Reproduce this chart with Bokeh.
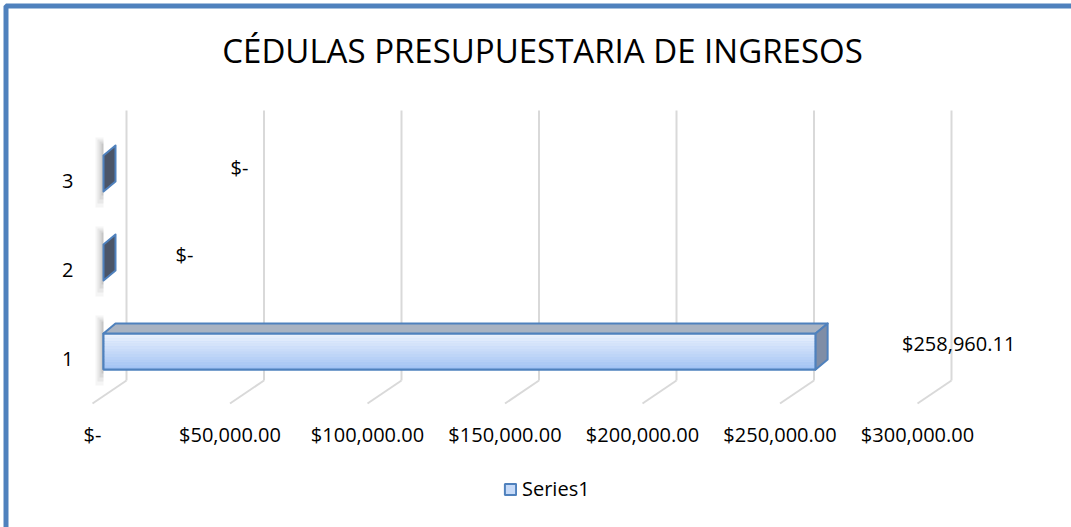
from bokeh.plotting import figure
from bokeh.models import Range1d, BoxAnnotation, Legend, LegendItem
from bokeh.core.properties import value
from bokeh.embed import file_html
from bokeh.resources import INLINE

# ---------------- data ----------------
title_text = "CÉDULAS PRESUPUESTARIA DE INGRESOS"
categories = [1, 2, 3]
category_labels = ["1", "2", "3"]
values = [258960.11, 0.0, 0.0]
value_labels = ["$258,960.11", "$-", "$-"]
x_ticks = [0, 50000, 100000, 150000, 200000, 250000, 300000]
x_tick_labels = ["$-", "$50,000.00", "$100,000.00", "$150,000.00",
                 "$200,000.00", "$250,000.00", "$300,000.00"]
series_name = "Series1"

# ---------------- layout (pixels) ----------------
W, H = 1071, 527
X0_PX, XMAX_PX, XMAX = 92, 917, 300000       # front plane: where 0 and 300k fall
Y1_PX, Y3_PX = 358, 180                      # front plane: where categories 1 and 3 fall
sx = (XMAX_PX - X0_PX) / XMAX                # px per data unit (x)
sy = (Y1_PX - Y3_PX) / 2.0                   # px per category (y)

def xd(px):   # canvas px -> x data
    return (px - X0_PX) / sx

def yd(px):   # canvas px -> y data
    return 1 + (Y1_PX - px) / sy

def dxp(px):  # px offset -> x data offset
    return px / sx

def dyp(px):  # px offset (upwards positive) -> y data offset
    return px / sy

FONT = "Open Sans"
BLUE = "#4F81BD"

p = figure(width=W, height=H, output_backend="svg", toolbar_location=None,
           x_range=Range1d(xd(0), xd(W)), y_range=Range1d(yd(H), yd(0)),
           x_axis_location=None, y_axis_location=None,
           min_border=0, background_fill_color="white", border_fill_color="white")
p.outline_line_color = None
p.xgrid.visible = False
p.ygrid.visible = False

# ---------------- 3D walls: gridlines on the back plane + floor lines ----------------
BACK_DX, FLOOR_BACK_PX, FLOOR_FRONT_PX, WALL_TOP_PX = 34, 380, 403, 110
gx = [t + dxp(BACK_DX) for t in x_ticks]
p.segment(x0=gx, y0=[yd(FLOOR_BACK_PX)] * len(gx), x1=gx, y1=[yd(WALL_TOP_PX)] * len(gx),
          line_color="#D9D9D9", line_width=2)
p.segment(x0=gx, y0=[yd(FLOOR_BACK_PX)] * len(gx), x1=x_ticks, y1=[yd(FLOOR_FRONT_PX)] * len(gx),
          line_color="#D9D9D9", line_width=2)

# ---------------- axis labels ----------------
p.text(x=x_ticks, y=[yd(434)] * len(x_ticks), text=x_tick_labels,
       text_align="center", text_baseline="middle",
       text_font=value(FONT), text_font_size="20px", text_color="#000000")
p.text(x=[xd(73)] * len(categories), y=categories, text=category_labels,
       text_align="right", text_baseline="middle",
       text_font=value(FONT), text_font_size="20px", text_color="#000000")

# ---------------- bars ----------------
BAR_DX, BAR_DY, BAR_H = 11, 7, 36    # bar plane offset from the front plane, bar height (px)
DEP_X, DEP_Y = 12, 10                # depth of the bar (px)
half = dyp(BAR_H / 2)
ddx, ddy = dxp(DEP_X), dyp(DEP_Y)

x0s = [0 + dxp(BAR_DX) for _ in values]
x1s = [v + dxp(BAR_DX) for v in values]
ycs = [c + dyp(BAR_DY) for c in categories]
ybs = [y - half for y in ycs]
yts = [y + half for y in ycs]

# soft shadow on the left of each bar
for k, a in [(8, 0.05), (6, 0.07), (4, 0.09), (2, 0.12)]:
    p.quad(left=[x - dxp(k) for x in x0s], right=x0s,
           bottom=[y - dyp(k * 2) for y in ybs], top=[y + ddy + dyp(k) for y in yts],
           fill_color="#404040", fill_alpha=a, line_color=None)

nz = [i for i, v in enumerate(values) if v != 0]

# front face: solid base (legend), gradient strips, outline
solid = p.quad(left=[x0s[i] for i in nz], right=[x1s[i] for i in nz],
               bottom=[ybs[i] for i in nz], top=[yts[i] for i in nz],
               fill_color="#C6DAF8", line_color=BLUE, line_width=2)
NS = 14
top_c, bot_c = (0xEA, 0xF1, 0xFD), (0xA2, 0xC3, 0xF4)
sl, sr, sb, st, sc = [], [], [], [], []
for i in nz:
    h = (yts[i] - ybs[i]) / NS
    for s in range(NS):
        f = s / (NS - 1)
        col = tuple(int(round(top_c[j] + (bot_c[j] - top_c[j]) * f)) for j in range(3))
        sl.append(x0s[i]); sr.append(x1s[i])
        st.append(yts[i] - s * h); sb.append(yts[i] - (s + 1) * h)
        sc.append("#%02x%02x%02x" % col)
p.quad(left=sl, right=sr, bottom=sb, top=st, fill_color=sc, line_color=None)
p.quad(left=[x0s[i] for i in nz], right=[x1s[i] for i in nz],
       bottom=[ybs[i] for i in nz], top=[yts[i] for i in nz],
       fill_alpha=0, line_color=BLUE, line_width=2)

# top face
p.patches(xs=[[x0s[i], x0s[i] + ddx, x1s[i] + ddx, x1s[i]] for i in nz],
          ys=[[yts[i], yts[i] + ddy, yts[i] + ddy, yts[i]] for i in nz],
          fill_color="#A9B3C2", line_color=BLUE, line_width=2, line_join="round")

# end face (dark when the bar has zero length)
end_cols = ["#7F8DA6" if v != 0 else "#4B5568" for v in values]
p.patches(xs=[[x1s[i], x1s[i], x1s[i] + ddx, x1s[i] + ddx] for i in range(len(values))],
          ys=[[ybs[i], yts[i], yts[i] + ddy, ybs[i] + ddy] for i in range(len(values))],
          fill_color=end_cols, line_color=BLUE, line_width=2, line_join="round")

# data labels
LBL_DX = [143, 81, 136]
LBL_DY = [15, 15, 13]
p.text(x=[x1s[i] + dxp(LBL_DX[i]) for i in range(len(values))],
       y=[categories[i] + dyp(LBL_DY[i]) for i in range(len(values))],
       text=value_labels, text_align="center", text_baseline="middle",
       text_font=value(FONT), text_font_size="20px", text_color="#000000")

# ---------------- title ----------------
p.text(x=[xd(542)], y=[yd(50)], text=[title_text], text_align="center",
       text_baseline="middle", text_font=value(FONT), text_font_size="33px",
       text_color="#000000")

# ---------------- legend ----------------
legend = Legend(items=[LegendItem(label=series_name, renderers=[solid])],
                location=(503, 25), orientation="horizontal",
                border_line_alpha=0, background_fill_alpha=0,
                label_text_font=FONT, label_text_font_size="20px",
                label_text_color="#000000",
                glyph_width=14, glyph_height=14, label_standoff=5,
                padding=0, margin=0)
p.add_layout(legend)

# ---------------- chart border ----------------
p.add_layout(BoxAnnotation(left=5.5, right=W + 20, top=5.5, bottom=H + 20,
                           left_units="canvas", right_units="canvas",
                           top_units="canvas", bottom_units="canvas",
                           fill_alpha=0, line_color=BLUE, line_alpha=1.0, line_width=5))

open("out.html", "w").write(file_html(p, INLINE))
